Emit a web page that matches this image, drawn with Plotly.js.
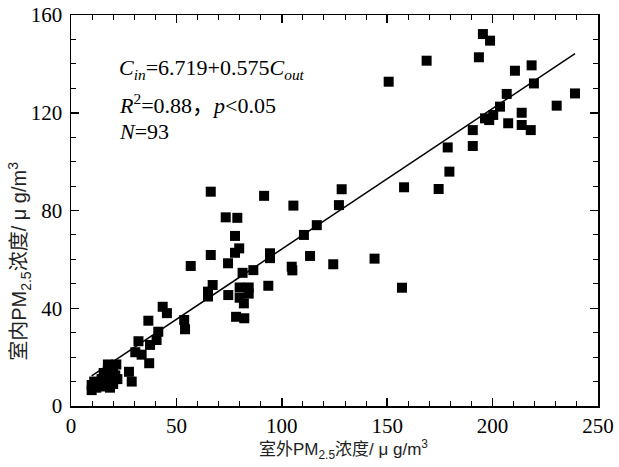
<!DOCTYPE html>
<html>
<head>
<meta charset="utf-8">
<script src="https://cdn.plot.ly/plotly-3.0.1.min.js"></script>
<style>html,body{margin:0;padding:0;background:#fff;}#chart{width:619px;height:467px;}</style>
</head>
<body>
<div id="chart"></div>
<script>
// Outdoor PM2.5 concentration (µg/m3)
const outdoorPM = [9.8, 9.8, 11, 12, 14.5, 14.5, 15.5, 17.5, 17.5, 18.5, 18.5, 20, 21.5, 21, 20, 16, 22,
  27.5, 28.8, 30.5, 33.5, 32, 37.5, 37.1, 41.4, 40.6, 36.7, 43.5, 45.5, 53.7, 54.1,
  56.8, 66.3, 66.3, 74.5, 81.4, 86.5, 67.2, 65, 65, 74.6, 80, 84.3, 80, 84.3, 82, 78.3, 82.2,
  73.4, 78.9, 77.8, 79.8, 77.8, 91.6, 94.4, 94.4, 93.6, 104.7, 105, 105.5, 110.5, 113.4, 116.6,
  124.4, 127.1, 128.4, 144, 157, 158, 174.4, 179.5, 178.7, 190.6, 190.6, 150.7, 168.7, 193.5,
  195.4, 198.8, 218.5, 210.6, 219.6, 239.1, 206.7, 203.5, 230.4, 213.8, 200.3, 196.4, 198.4,
  207.4, 213.8, 218.1];
// Indoor PM2.5 concentration (µg/m3)
const indoorPM = [6.5, 8.6, 10, 7.5, 8, 11, 13.5, 17, 15, 12, 7.5, 9, 17, 12.5, 14.5, 9.5, 11,
  14, 10, 22, 21, 26.5, 25, 17.5, 30.4, 27, 34.9, 40.6, 38, 35.2, 31.4,
  57.3, 61.8, 87.7, 58.4, 54.5, 55.6, 49.5, 46.8, 44.8, 45.4, 48.5, 48.5, 44.3, 46, 42, 36.5, 35.9,
  77.2, 77, 69.6, 64.5, 62.7, 86, 62.5, 60.5, 49.2, 57, 55.5, 82, 70, 61.4, 74,
  58, 82.2, 88.7, 60.3, 48.4, 89.5, 88.8, 95.9, 105.8, 106.4, 112.9, 132.7, 141.3, 142.7,
  152.2, 149.5, 139.4, 137.2, 132, 127.9, 127.7, 122.5, 122.9, 120, 119.1, 117.7, 117,
  115.7, 115, 112.9];
// Regression: Cin = 6.719 + 0.575 Cout
const intercept = 6.719;
const slope = 0.575;
const xTickVals = [0, 50, 100, 150, 200, 250];
const yTickVals = [0, 40, 80, 120, 160];
const xTitle = '室外PM<sub>2.5</sub>浓度/ μ g/m<sup>3</sup>';
const yTitle = '室内PM<sub>2.5</sub>浓度/ μ g/m<sup>3</sup>';

const xMin = Math.min(...outdoorPM), xMax = Math.max(...outdoorPM);
const fitX = [xMin, xMax];
const fitY = fitX.map(v => intercept + slope * v);

const serif = '"Liberation Serif", "Times New Roman", "Noto Sans CJK SC", serif';
const sans = '"Liberation Sans", Arial, "Noto Sans CJK SC", sans-serif';

const traces = [
  {x: outdoorPM, y: indoorPM, type: 'scatter', mode: 'markers',
   marker: {symbol: 'square', size: 10, color: '#000'}, hoverinfo: 'x+y'},
  {x: fitX, y: fitY, type: 'scatter', mode: 'lines',
   line: {color: '#000', width: 1.5}, hoverinfo: 'skip'}
];

const axisCommon = {
  showgrid: false, zeroline: false, showline: true, linecolor: '#000', linewidth: 1.5,
  mirror: 'allticks', ticks: 'inside', ticklen: 8, tickwidth: 1.5, tickcolor: '#000',
  tickfont: {family: serif, size: 21, color: '#000'}
};

const layout = {
  width: 619, height: 467,
  margin: {l: 71, r: 21, t: 15, b: 61},
  paper_bgcolor: '#fff', plot_bgcolor: '#fff',
  showlegend: false,
  xaxis: Object.assign({}, axisCommon, {
    range: [0, 250], tickvals: xTickVals,
    minor: {dtick: 10, ticks: 'inside', ticklen: 5, tickwidth: 1, tickcolor: '#000'}
  }),
  yaxis: Object.assign({}, axisCommon, {
    range: [0, 160], tickvals: yTickVals, ticklabelstandoff: 3,
    minor: {dtick: 10, ticks: 'inside', ticklen: 5, tickwidth: 1, tickcolor: '#000'}
  }),
  annotations: [
    {xref: 'paper', yref: 'paper', x: 0.518, y: -0.112, xanchor: 'center', yanchor: 'middle', showarrow: false,
     text: xTitle, font: {family: sans, size: 17, color: '#222'}},
    {xref: 'paper', yref: 'paper', x: -0.097, y: 0.371, xanchor: 'center', yanchor: 'middle', showarrow: false,
     textangle: -90, text: yTitle, font: {family: sans, size: 20, color: '#222'}},
    {xref: 'paper', yref: 'paper', x: 0.087, y: 0.862, xanchor: 'left', yanchor: 'middle', showarrow: false,
     text: '<i>C</i><sub><i>in</i></sub>=6.719+0.575<i>C</i><sub><i>out</i></sub>', font: {family: serif, size: 22, color: '#000'}},
    {xref: 'paper', yref: 'paper', x: 0.087, y: 0.772, xanchor: 'left', yanchor: 'middle', showarrow: false,
     text: '<i>R</i><sup>2</sup>=0.88，<i>p</i>&lt;0.05', font: {family: serif, size: 22, color: '#000'}},
    {xref: 'paper', yref: 'paper', x: 0.087, y: 0.702, xanchor: 'left', yanchor: 'middle', showarrow: false,
     text: '<i>N</i>=93', font: {family: serif, size: 22, color: '#000'}}
  ]
};

Plotly.newPlot('chart', traces, layout, {displayModeBar: false, staticPlot: true});
</script>
</body>
</html>
